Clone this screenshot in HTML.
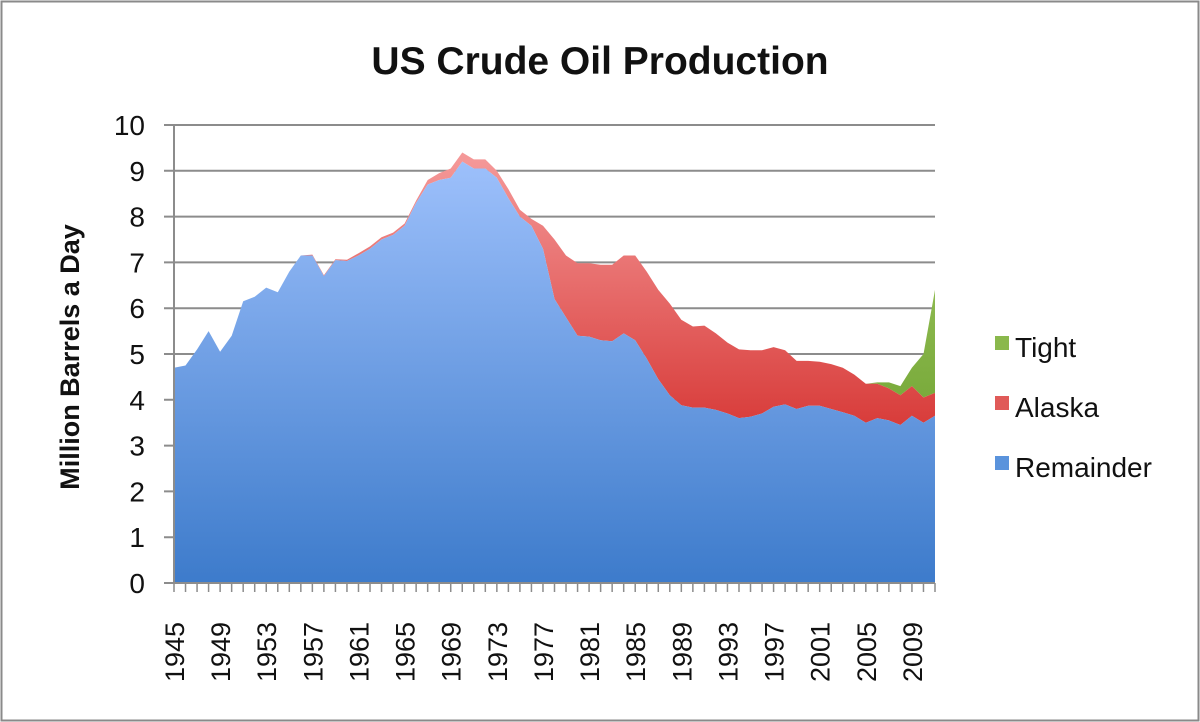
<!DOCTYPE html>
<html><head><meta charset="utf-8"><style>
html,body{margin:0;padding:0;background:#fff;}
svg{display:block;font-family:"Liberation Sans",sans-serif;}
</style></head><body>
<svg id="s" width="1200" height="722" viewBox="0 0 1200 722" xmlns="http://www.w3.org/2000/svg">
<defs>
<linearGradient id="gb" x1="0" y1="0" x2="0" y2="1"><stop offset="0" stop-color="#9dc0fb"/><stop offset="1" stop-color="#3d7bcb"/></linearGradient>
<linearGradient id="gr" x1="0" y1="0" x2="0" y2="1"><stop offset="0" stop-color="#f59a9a"/><stop offset="1" stop-color="#d83c3a"/></linearGradient>
<linearGradient id="gg" x1="0" y1="0" x2="0" y2="1"><stop offset="0" stop-color="#a6cd68"/><stop offset="1" stop-color="#7aab3c"/></linearGradient>
</defs>
<rect x="1.5" y="1.5" width="1197" height="719" fill="#fff" stroke="#8a8a8a" stroke-width="2"/>
<text x="600" y="74" text-anchor="middle" font-size="39" font-weight="bold" fill="#111">US Crude Oil Production</text>
<text transform="translate(79,357) rotate(-90)" text-anchor="middle" font-size="27" font-weight="bold" fill="#111">Million Barrels a Day</text>
<g id="grid"></g>
<g id="areas"></g>
<g id="axes"></g>
<rect x="995" y="336" width="14" height="14" fill="#8ab84c"/>
<text x="1015" y="357" font-size="28" fill="#111">Tight</text>
<rect x="995" y="396" width="14" height="14" fill="#e05a58"/>
<text x="1015" y="417" font-size="28" fill="#111">Alaska</text>
<rect x="995" y="456" width="14" height="14" fill="#5a93dc"/>
<text x="1015" y="477" font-size="28" fill="#111">Remainder</text>
</svg>
<script>
var X0=174,X1=935,Y0=583,PU=45.8,N=67,dx=(X1-X0)/(N-1);
function X(i){return X0+i*dx} function Y(v){return Y0-v*PU}
var rem=[4.7,4.75,5.1,5.5,5.05,5.4,6.15,6.25,6.45,6.35,6.8,7.15,7.15,6.7,7.05,7.03,7.15,7.3,7.5,7.6,7.8,8.3,8.7,8.8,8.85,9.2,9.05,9.05,8.85,8.4,8.0,7.8,7.3,6.2,5.8,5.4,5.38,5.3,5.28,5.45,5.3,4.9,4.45,4.1,3.88,3.83,3.83,3.78,3.7,3.6,3.63,3.7,3.85,3.9,3.8,3.87,3.87,3.8,3.73,3.65,3.5,3.6,3.55,3.45,3.65,3.5,3.65];
var tot=rem.slice();
var al={1957:7.17,1958:6.72,1959:7.07,1960:7.06,1961:7.2,1962:7.35,1963:7.55,1964:7.65,1965:7.85,1966:8.35,1967:8.8,1968:8.95,1969:9.05,1970:9.4,1971:9.25,1972:9.25,1973:9.0,1974:8.6,1975:8.15,1976:7.95,1977:7.8,1978:7.5,1979:7.15,1980:6.98,1981:6.98,1982:6.95,1983:6.95,1984:7.15,1985:7.15,1986:6.8,1987:6.4,1988:6.1,1989:5.75,1990:5.6,1991:5.62,1992:5.45,1993:5.25,1994:5.1,1995:5.08,1996:5.08,1997:5.15,1998:5.08,1999:4.85,2000:4.85,2001:4.83,2002:4.78,2003:4.7,2004:4.55,2005:4.35,2006:4.35,2007:4.25,2008:4.1,2009:4.3,2010:4.05,2011:4.15};
for(var y in al)tot[y-1945]=al[y];
var tt=tot.slice();var ti={2006:4.38,2007:4.38,2008:4.3,2009:4.7,2010:5.0,2011:6.4};
for(var y in ti)tt[y-1945]=ti[y];
function poly(top,bot,fill){var p=[];for(var i=0;i<N;i++)p.push(X(i).toFixed(1)+","+Y(top[i]).toFixed(1));for(var i=N-1;i>=0;i--)p.push(X(i).toFixed(1)+","+Y(bot?bot[i]:0).toFixed(1));return '<polygon points="'+p.join(" ")+'" fill="'+fill+'"/>';}
var g='';for(var v=0;v<=10;v++){g+='<line x1="164" x2="'+X1+'" y1="'+Y(v)+'" y2="'+Y(v)+'" stroke="#8c8c8c" stroke-width="2"/>';g+='<text x="145" y="'+(Y(v)+10)+'" text-anchor="end" font-size="28" fill="#111">'+v+'</text>';}
document.getElementById('grid').innerHTML=g;
document.getElementById('areas').innerHTML=poly(tt,tot,'url(#gg)')+poly(tot,rem,'url(#gr)')+poly(rem,null,'url(#gb)');
var a='<line x1="'+X0+'" x2="'+X0+'" y1="'+Y(10)+'" y2="'+Y0+'" stroke="#8c8c8c" stroke-width="2"/><line x1="'+X0+'" x2="'+X1+'" y1="'+Y0+'" y2="'+Y0+'" stroke="#8c8c8c" stroke-width="2"/>';
for(var i=0;i<N;i++){a+='<line x1="'+X(i)+'" x2="'+X(i)+'" y1="'+Y0+'" y2="'+(Y0+9)+'" stroke="#8c8c8c" stroke-width="1.5"/>';}
for(var i=0;i<N;i+=4){var xx=X(i)+10;a+='<text transform="translate('+xx+',682) rotate(-90)" font-size="27" fill="#111">'+(1945+i)+'</text>';}
document.getElementById('axes').innerHTML=a;
</script>
</body></html>
